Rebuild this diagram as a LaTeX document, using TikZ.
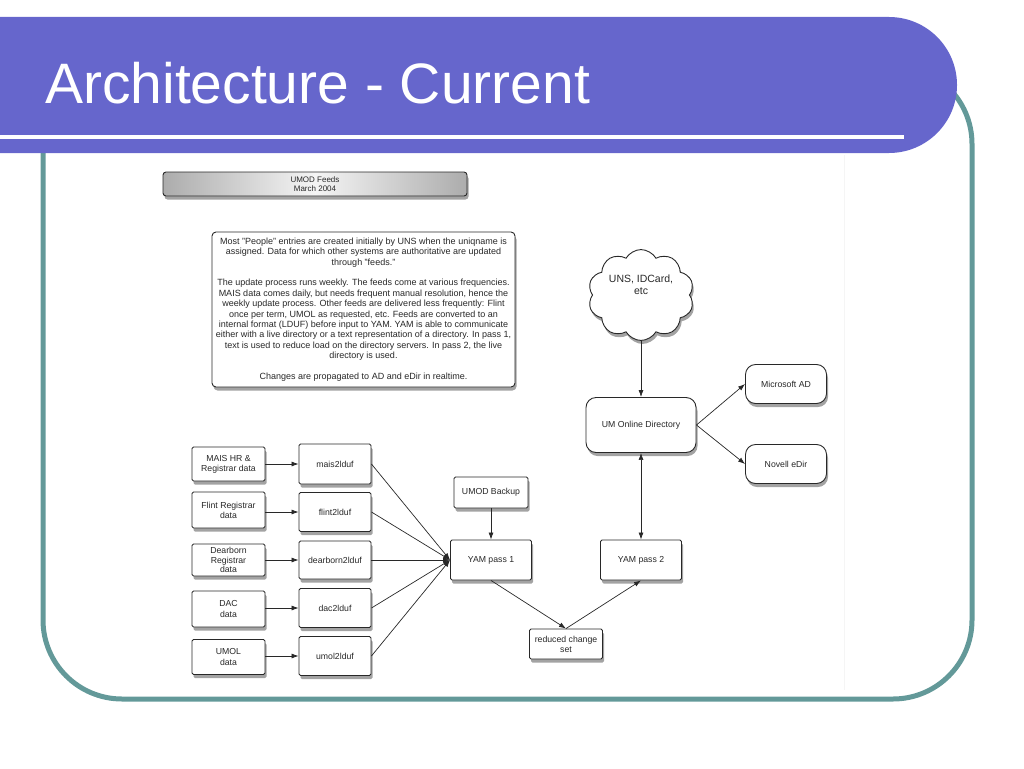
\documentclass[tikz,border=0pt]{standalone}
\usepackage{fontspec}
\setmainfont{Liberation Sans}
\usetikzlibrary{shapes,shadows,arrows.meta}
\definecolor{barblue}{RGB}{102,102,204}
\definecolor{frameteal}{RGB}{99,153,153}
\definecolor{inkgray}{RGB}{40,40,40}

\begin{document}
\begin{tikzpicture}[x=1pt,y=-1pt,
  box/.style={shape=rectangle,draw=inkgray,fill=white,line width=0.9pt,rounded corners=1.5pt,align=center,text=inkgray,inner sep=1pt,font=\fontsize{8.7pt}{10.2pt}\selectfont,drop shadow={shadow xshift=1.5pt,shadow yshift=-3.5pt,opacity=0.6,fill=gray!80!black}},
  roundbox/.style={box,rounded corners=10pt},
  link/.style={-{Latex[length=7pt,width=5pt]},draw=inkgray,line width=0.7pt},
  biglink/.style={{Latex[length=7pt,width=5pt]}-{Latex[length=7pt,width=5pt]},draw=inkgray,line width=0.7pt}]
\useasboundingbox (0,0) rectangle (1024,768);

% slide frame and title bar
\draw[frameteal,line width=5pt,rounded corners=79pt] (43,65) rectangle (972,699);
\draw[gray!8,line width=0.6pt] (844,155) -- (844,690);
\fill[barblue] (0,17) [rounded corners=68pt] -- (957,17) -- (957,153) [sharp corners] -- (0,153) -- cycle;
\draw[white,line width=4pt] (0,137) -- (904,137);
\node[anchor=base west,inner sep=0pt,text=white,font=\fontsize{57pt}{60pt}\selectfont] (title) at (45,103) {Architecture - Current};

% header and notes
\node[box,rounded corners=3pt,left color=gray!65,right color=gray!65,middle color=gray!8,minimum width=304pt,minimum height=24pt,font=\fontsize{8pt}{9.5pt}\selectfont] (feeds) at (315,184) {UMOD Feeds\\March 2004};
\node[box,rounded corners=4pt,minimum width=303pt,minimum height=155pt,font=\fontsize{9pt}{10.4pt}\selectfont] (notes) at (363.5,309.5) {Most "People" entries are created initially by UNS when the uniqname is\\assigned.  Data for which other systems are authoritative are updated\\through "feeds."\\[10.4pt]The update process runs weekly.  The feeds come at various frequencies.\\MAIS data comes daily, but needs frequent manual resolution, hence the\\weekly update process.  Other feeds are delivered less frequently: Flint\\once per term, UMOL as requested, etc.  Feeds are converted to an\\internal format (LDUF) before input to YAM.  YAM is able to communicate\\either with a live directory or a text representation of a directory.  In pass 1,\\text is used to reduce load on the directory servers.  In pass 2, the live\\directory is used.\\[10.4pt]Changes are propagated to AD and eDir in realtime.};

% directory side
\node[box,shape=cloud,cloud puffs=10,cloud puff arc=120,aspect=1.2,rounded corners=0pt,minimum width=106pt,minimum height=90pt,font=\fontsize{10.5pt}{12pt}\selectfont] (uns) at (641,295) {UNS, IDCard,\\etc\\[8pt]};
\node[roundbox,minimum width=110pt,minimum height=55pt] (umdir) at (641,425) {UM Online Directory};
\node[roundbox,minimum width=81pt,minimum height=39pt] (msad) at (786,384) {Microsoft AD};
\node[roundbox,minimum width=81pt,minimum height=39pt] (edir) at (786,464) {Novell eDir};
\node[box,minimum width=81pt,minimum height=40pt] (yam2) at (641,560) {YAM pass 2};
\node[box,minimum width=74pt,minimum height=31pt] (backup) at (491,492.5) {UMOD Backup};
\node[box,minimum width=81pt,minimum height=40pt] (yam1) at (491,560) {YAM pass 1};
\node[box,minimum width=73pt,minimum height=30pt] (reduced) at (566,644) {reduced change\\set};

% feed sources
\node[box,minimum width=73pt,minimum height=34pt] (mais) at (228.5,464) {MAIS HR \&\\Registrar data};
\node[box,minimum width=73pt,minimum height=36pt] (flint) at (228.5,510) {Flint Registrar\\data};
\node[box,minimum width=73pt,minimum height=32pt,font=\fontsize{8.7pt}{9.6pt}\selectfont] (dearborn) at (228.5,560) {Dearborn\\Registrar\\data};
\node[box,minimum width=73pt,minimum height=36pt] (dac) at (228.5,609) {DAC\\data};
\node[box,minimum width=73pt,minimum height=35pt] (umol) at (228.5,657) {UMOL\\data};

% converters
\node[box,minimum width=72pt,minimum height=40pt] (mais2lduf) at (335,464) {mais2lduf};
\node[box,minimum width=72pt,minimum height=39pt] (flint2lduf) at (335,512) {flint2lduf};
\node[box,minimum width=72pt,minimum height=38pt] (dearborn2lduf) at (335,560) {dearborn2lduf};
\node[box,minimum width=72pt,minimum height=39pt] (dac2lduf) at (335,608) {dac2lduf};
\node[box,minimum width=72pt,minimum height=39pt] (umol2lduf) at (335,656) {umol2lduf};

\path (mais) edge [link] (mais2lduf);
\path (flint.east |- flint2lduf) edge [link] (flint2lduf);
\path (dearborn) edge [link] (dearborn2lduf);
\path (dac.east |- dac2lduf) edge [link] (dac2lduf);
\path (umol.east |- umol2lduf) edge [link] (umol2lduf);

\path (mais2lduf.east) edge [link] (yam1.west);
\path (flint2lduf.east) edge [link] (yam1.west);
\path (dearborn2lduf.east) edge [link] (yam1.west);
\path (dac2lduf.east) edge [link] (yam1.west);
\path (umol2lduf.east) edge [link] (yam1.west);

\path (backup) edge [link] (yam1);
\path (yam1.south) edge [link] (reduced.north);
\path (reduced.north) edge [link] (yam2.south);
\path (yam2) edge [biglink] (umdir);
\path (uns) edge [link] (umdir);
\path (umdir.east) edge [link] (msad.west);
\path (umdir.east) edge [link] (edir.west);
\end{tikzpicture}
\end{document}
